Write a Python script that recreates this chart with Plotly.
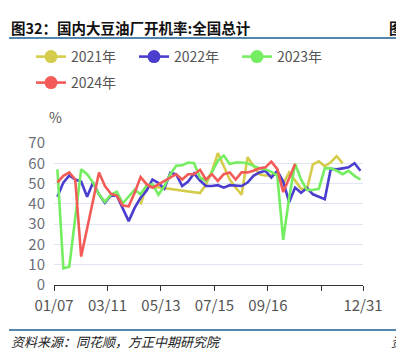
import plotly.graph_objects as go
import pandas as pd

# ---------------- data ----------------
series_names = ["2021年", "2022年", "2023年", "2024年"]
series_colors = ["#d5cc4b", "#4b3ecf", "#74ee60", "#f25b57"]

axis_start = "2023-01-07"      # first axis label date
first_week = "2023-01-11"      # first weekly observation
n_weeks = 52

tick_days = [0, 63, 126, 189, 252, 315, 364]
tick_labels = ["01/07", "03/11", "05/13", "07/15", "09/16", "", "12/31"]

N = None
v2021 = [N, N, N, N, N, N, N, N, N, N, N, N, N, N, 39.6, 49.0, N, N, N, N,
         N, N, N, N, 45.3, 49.5, 56.0, 65.0, 58.5, 52.0, 48.0, 44.5, 63.0, 58.8,
         54.6, 54.0, 54.0, 55.0, 50.0, 55.5, 51.5, 47.5, 47.3, 59.5, 61.0, 58.5,
         60.5, 63.5, 60.0, N, N, N]
v2022 = [43.5, 50.5, 54.0, 52.0, 51.0, 43.5, 50.5, 44.7, 40.5, 44.2, 44.0, 37.5,
         31.5, 38.0, 43.0, 46.5, 52.0, 50.3, 47.5, 55.3, 54.5, 48.8, 51.0, 55.0,
         51.5, 48.8, 48.8, 49.2, 48.0, 49.2, 49.0, 48.8, 50.5, 53.8, 55.5, 56.3,
         53.0, 56.3, 51.0, 40.8, 48.0, 45.5, 47.8, 44.7, 43.5, 42.3, 57.2, 57.0,
         57.5, 58.0, 60.0, 56.3]
v2023 = [57.0, 8.2, 9.0, 33.0, 57.0, 54.6, 50.5, 44.7, 41.0, 44.5, 46.0, 40.3,
         43.5, 47.0, 44.7, 49.0, 49.7, 44.5, 48.8, 54.6, 58.8, 59.0, 60.4, 60.0,
         53.0, 51.3, 55.5, 61.3, 63.8, 59.6, 60.4, 60.4, 60.0, 58.8, 57.5, 57.1,
         55.8, 54.0, 22.3, 43.0, 59.8, 52.0, 46.8, 46.8, 47.5, 57.5, 57.5, 56.3,
         54.6, 56.3, 53.8, 52.0]
v2024 = [50.5, 53.8, 55.5, 52.0, 14.0, 28.0, 41.4, 55.5, 48.8, 45.0, 44.0, 39.2,
         38.8, 45.5, 53.2, 49.7, 48.0, 49.7, 51.3, 53.0, 54.6, 52.0, 54.6, 54.6,
         56.8, 52.0, 54.6, 51.3, 54.6, 55.5, 52.0, 55.5, 55.5, 56.3, 57.5, 58.0,
         60.8, 57.2, 45.8, 52.6, 59.7, N, N, N, N, N, N, N, N, N, N, N]
series_values = [v2021, v2022, v2023, v2024]

title_text = "图32：国内大豆油厂开机率:全国总计"
source_text = "资料来源：同花顺，方正中期研究院"
unit_text = "%"

# ---------------- geometry helpers ----------------
W, H = 396, 352
ML, MR, MT, MB = 54, 33, 143, 67
PW, PH = W - ML - MR, H - MT - MB


def px2x(px):
    return (px - ML) / PW


def py2y(py):
    return (H - MB - py) / PH


days = (pd.date_range(first_week, periods=n_weeks, freq="7D")
        - pd.Timestamp(axis_start)).days.tolist()

FONT = "Noto Sans CJK SC, Noto Sans, sans-serif"

fig = go.Figure()
for name, color, vals in zip(series_names, series_colors, series_values):
    fig.add_trace(go.Scatter(
        x=days, y=vals, mode="lines", name=name,
        line=dict(color=color, width=2.6), connectgaps=True,
        showlegend=False, hoverinfo="skip"))

for k, (name, color) in enumerate(zip(series_names, series_colors)):
    fig.add_trace(go.Scatter(
        x=[None], y=[None], mode="lines+markers", name=name,
        line=dict(color=color, width=2.6),
        marker=dict(color=color, size=13),
        legend="legend" if k < 3 else "legend2"))

legend_common = dict(orientation="h", xanchor="left", yanchor="middle",
                     font=dict(family=FONT, size=14, color="#555"),
                     entrywidth=58, entrywidthmode="pixels",
                     bgcolor="rgba(0,0,0,0)", itemclick=False)

fig.update_layout(
    width=W, height=H,
    margin=dict(l=ML, r=MR, t=MT, b=MB, pad=0),
    paper_bgcolor="white", plot_bgcolor="white",
    font=dict(family=FONT),
    legend=dict(x=px2x(31), y=py2y(57), **legend_common),
    legend2=dict(x=px2x(31), y=py2y(83), **legend_common),
    xaxis=dict(range=[0, 364], tickmode="array", tickvals=tick_days,
               ticktext=tick_labels, showgrid=False, zeroline=False,
               showline=True, linecolor="#333", linewidth=1,
               ticks="outside", ticklen=5, tickcolor="#333",
               ticklabelstandoff=2,
               tickfont=dict(family=FONT, size=15, color="#555")),
    yaxis=dict(range=[0, 70], dtick=10, showgrid=True, gridcolor="#e0e6f1",
               gridwidth=1, zeroline=False, showline=False,
               ticklabelstandoff=8,
               tickfont=dict(family=FONT, size=15, color="#6e7079")),
    annotations=[
        dict(text="<b>" + title_text + "</b>", x=px2x(9), y=py2y(27),
             xref="paper", yref="paper", xanchor="left", yanchor="middle",
             showarrow=False, font=dict(family=FONT, size=14.5, color="#111")),
        dict(text="<b>图</b>", x=px2x(387), y=py2y(27),
             xref="paper", yref="paper", xanchor="left", yanchor="middle",
             showarrow=False, font=dict(family=FONT, size=14.5, color="#111")),
        dict(text=unit_text, x=px2x(55), y=py2y(117),
             xref="paper", yref="paper", xanchor="center", yanchor="middle",
             showarrow=False, font=dict(family=FONT, size=14, color="#555")),
        dict(text="<i>" + source_text + "</i>", x=px2x(9), y=py2y(341),
             xref="paper", yref="paper", xanchor="left", yanchor="middle",
             showarrow=False, font=dict(family=FONT, size=13, color="#222")),
        dict(text="<i>资</i>", x=px2x(389), y=py2y(341),
             xref="paper", yref="paper", xanchor="left", yanchor="middle",
             showarrow=False, font=dict(family=FONT, size=13, color="#222")),
    ],
    shapes=[
        dict(type="line", xref="paper", yref="paper",
             x0=px2x(9), x1=px2x(396), y0=py2y(38), y1=py2y(38),
             line=dict(color="#1b5e93", width=1.5)),
        dict(type="line", xref="paper", yref="paper",
             x0=px2x(9), x1=px2x(396), y0=py2y(330), y1=py2y(330),
             line=dict(color="#1b5e93", width=1.5)),
    ],
)

fig.write_html("out.html")
